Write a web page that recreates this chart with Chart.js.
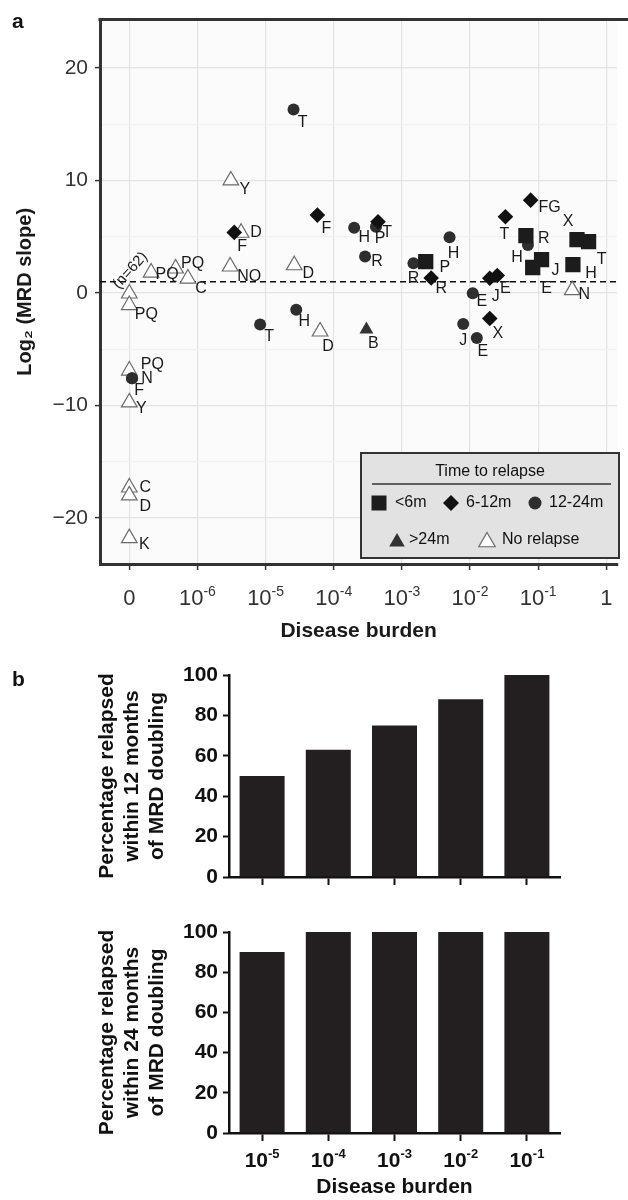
<!DOCTYPE html>
<html>
<head>
<meta charset="utf-8">
<title>MRD slope and disease burden</title>
<script src="https://cdn.jsdelivr.net/npm/chart.js@4.4.1/dist/chart.umd.min.js"></script>
<style>
  html, body { margin: 0; padding: 0; background: #fff; }
  body { position: relative; width: 628px; height: 1200px; overflow: hidden;
         font-family: "Liberation Sans", Arial, Helvetica, sans-serif; color: #111; }
  canvas { position: absolute; left: 0; }
  .panel { position: absolute; left: 12px; font-size: 21px; font-weight: bold; line-height: 1; }
</style>
</head>
<body>
<canvas id="scatter" width="628" height="645" style="top:0"></canvas>
<canvas id="bar12" width="628" height="245" style="top:650px"></canvas>
<canvas id="bar24" width="628" height="305" style="top:895px"></canvas>
<div class="panel" style="top:10px">a</div>
<div class="panel" style="top:668px">b</div>
<script>
(function () {
    "use strict";

    // ---------- data ----------
    // burden = log10(disease burden); -7 is the "0" column at the left
    const xTickValues = [-7, -6, -5, -4, -3, -2, -1, 0];
    const xTickLabels = ['0', '10^-6', '10^-5', '10^-4', '10^-3', '10^-2', '10^-1', '1'];
    const relapseGroups = ['<6m', '6-12m', '12-24m', '>24m', 'No relapse'];
    const doublingLine = 1;

    const lt6mBurden = [-2.65, -1.18, -1.08, -0.95, -0.43, -0.26, -0.49];
    const lt6mSlope = [2.79, 5.09, 2.26, 2.96, 4.73, 4.56, 2.52];
    const lt6mIds = ['P', 'R', 'E', 'J', 'X', 'T', 'H'];

    const m6to12Burden = [-5.46, -4.24, -3.35, -2.57, -1.71, -1.60, -1.71, -1.48, -1.11];
    const m6to12Slope = [5.38, 6.92, 6.33, 1.33, 1.31, 1.55, -2.28, 6.77, 8.25];
    const m6to12Ids = ['F', 'F', 'T', 'R', 'J', 'E', 'X', 'T', 'FG'];

    const m12to24Burden = [-6.96, -6.96, -5.08, -4.59, -4.55, -3.70, -3.38, -3.54, -2.83, -2.30, -1.96, -2.10, -1.90, -1.15];
    const m12to24Slope = [-7.59, -7.59, -2.81, 16.3, -1.49, 5.80, 5.88, 3.23, 2.64, 4.94, -0.02, -2.76, -4.0, 4.27];
    const m12to24Ids = ['N', 'F', 'T', 'T', 'H', 'H', 'P', 'R', 'R', 'H', 'E', 'J', 'E', 'H'];

    const gt24mBurden = [-3.52];
    const gt24mSlope = [-3.26];
    const gt24mIds = ['B'];

    const noRelapseBurden = [-5.51, -5.36, -5.52, -6.32, -6.68, -6.14, -7, -7, -7, -7, -7, -7, -7, -4.58, -4.20, -0.50];
    const noRelapseSlope = [10.0, 5.35, 2.35, 2.17, 1.81, 1.28, -0.05, -1.08, -6.9, -9.73, -17.3, -18.0, -21.8, 2.46, -3.43, 0.25];
    const noRelapseIds = ['Y', 'D', 'NO', 'PQ', 'PQ', 'C', '(n=62)', 'PQ', 'PQ', 'Y', 'C', 'D', 'K', 'D', 'D', 'N'];

    const barCategories = ['10^-5', '10^-4', '10^-3', '10^-2', '10^-1'];
    const relapsedWithin12m = [50, 63, 75, 88, 100];
    const relapsedWithin24m = [90, 100, 100, 100, 100];

    // ---------- styles ----------
    const FONT = '"Liberation Sans", Arial, Helvetica, sans-serif';
    Chart.defaults.font.family = FONT;
    Chart.defaults.color = '#222';

    const groupStyle = [
        { pointStyle: 'rect', radius: 10.8, fill: '#1c1c1c', stroke: '#1c1c1c', borderWidth: 0 },
        { pointStyle: 'rectRot', radius: 7.8, fill: '#111', stroke: '#111', borderWidth: 0 },
        { pointStyle: 'circle', radius: 6, fill: '#2e2e2e', stroke: '#2e2e2e', borderWidth: 0 },
        { pointStyle: 'triangle', radius: 8, fill: '#333', stroke: '#333', borderWidth: 0 },
        { pointStyle: 'triangle', radius: 9, fill: '#fff', stroke: '#6a6a6a', borderWidth: 1.2 }
    ];

    // label offsets in px from each point (ggrepel-like placement)
    const labelNudge = [
        [[19, 6], [18, 3], [14, 21], [14, 11], [-9, -18], [13, 18], [18, 9]],
        [[8, 14], [9, 14], [9, 11], [10, 11], [6, 18], [8, 13], [8, 15], [-1, 18], [19, 7]],
        [[15, 0], [7, 12], [9, 12], [9, 13], [8, 12], [10, 10], [4, 12], [12, 5], [0, 15], [4, 16], [9, 8], [0, 17], [6, 14], [-11, 13]],
        [[7, 14]],
        [[14, 9], [15, 0], [19, 10], [17, -5], [16, 2], [13, 10], [1, -23], [17, 10], [23, -6], [12, 6], [16, 0], [16, 11], [15, 6], [14, 8], [8, 15], [12, 4]]
    ];
    const rotatedLabels = { '(n=62)': -48 };

    const legendBox = { x: 361, y: 453, w: 258, h: 105, titleY: 472, ruleY: 484 };
    const legendSlots = [
        { mx: 379, my: 503, tx: 395, ty: 503, r: 10.6 },
        { mx: 451, my: 503, tx: 466, ty: 503, r: 8 },
        { mx: 535, my: 503, tx: 549, ty: 503, r: 6.5 },
        { mx: 397, my: 542, tx: 409, ty: 540, r: 9 },
        { mx: 487, my: 542, tx: 502, ty: 540, r: 9.5 }
    ];

    const series = [
        { burden: lt6mBurden, slope: lt6mSlope, ids: lt6mIds },
        { burden: m6to12Burden, slope: m6to12Slope, ids: m6to12Ids },
        { burden: m12to24Burden, slope: m12to24Slope, ids: m12to24Ids },
        { burden: gt24mBurden, slope: gt24mSlope, ids: gt24mIds },
        { burden: noRelapseBurden, slope: noRelapseSlope, ids: noRelapseIds }
    ];

    // "10^-6" -> 10 with a raised exponent, centred on cx
    function drawPow(ctx, label, cx, baseline, size, weight, color) {
        const parts = label.split('^');
        const baseFont = weight + ' ' + size + 'px ' + FONT;
        const expFont = weight + ' ' + Math.round(size * 0.62) + 'px ' + FONT;
        ctx.save();
        ctx.fillStyle = color;
        ctx.textBaseline = 'alphabetic';
        ctx.textAlign = 'left';
        ctx.font = baseFont;
        const bw = ctx.measureText(parts[0]).width;
        let ew = 0;
        if (parts[1]) {
            ctx.font = expFont;
            ew = ctx.measureText(parts[1]).width;
        }
        const x0 = cx - (bw + ew) / 2;
        ctx.font = baseFont;
        ctx.fillText(parts[0], x0, baseline);
        if (parts[1]) {
            ctx.font = expFont;
            ctx.fillText(parts[1], x0 + bw, baseline - size * 0.42);
        }
        ctx.restore();
    }

    function drawMarker(ctx, style, x, y, r, fill, stroke, lw) {
        ctx.beginPath();
        if (style === 'rect') {
            const s = r * Math.SQRT1_2;
            ctx.rect(x - s, y - s, 2 * s, 2 * s);
        } else if (style === 'rectRot') {
            ctx.moveTo(x - r, y);
            ctx.lineTo(x, y - r);
            ctx.lineTo(x + r, y);
            ctx.lineTo(x, y + r);
            ctx.closePath();
        } else if (style === 'circle') {
            ctx.arc(x, y, r, 0, Math.PI * 2);
        } else {
            ctx.moveTo(x, y - r);
            ctx.lineTo(x + r * 0.866, y + r * 0.5);
            ctx.lineTo(x - r * 0.866, y + r * 0.5);
            ctx.closePath();
        }
        ctx.fillStyle = fill;
        ctx.fill();
        if (lw) {
            ctx.strokeStyle = stroke;
            ctx.lineWidth = lw;
            ctx.stroke();
        }
    }

    function drawLegend(ctx) {
        const L = legendBox;
        ctx.save();
        ctx.fillStyle = '#e2e2e2';
        ctx.fillRect(L.x, L.y, L.w, L.h);
        ctx.strokeStyle = '#333';
        ctx.lineWidth = 2;
        ctx.strokeRect(L.x, L.y, L.w, L.h);
        ctx.fillStyle = '#111';
        ctx.font = '16px ' + FONT;
        ctx.textAlign = 'center';
        ctx.textBaseline = 'middle';
        ctx.fillText('Time to relapse', L.x + L.w / 2, L.titleY);
        ctx.beginPath();
        ctx.moveTo(L.x + 11, L.ruleY);
        ctx.lineTo(L.x + L.w - 8, L.ruleY);
        ctx.lineWidth = 1.5;
        ctx.stroke();
        relapseGroups.forEach(function (g, i) {
            const s = legendSlots[i];
            const st = groupStyle[i];
            drawMarker(ctx, st.pointStyle, s.mx, s.my, s.r, st.fill, st.stroke, st.borderWidth);
            ctx.fillStyle = '#111';
            ctx.font = '16px ' + FONT;
            ctx.textAlign = 'left';
            ctx.textBaseline = 'middle';
            ctx.fillText(g, s.tx, s.ty);
        });
        ctx.restore();
    }

    // Scatter decorations: panel background, dashed line, point labels, frame, ticks, legend
    const scatterDecor = {
        id: 'scatterDecor',
        beforeDraw(chart) {
            const { ctx, chartArea: a } = chart;
            ctx.save();
            ctx.fillStyle = '#fbfbfb';
            ctx.fillRect(a.left, a.top, a.right - a.left, a.bottom - a.top);
            ctx.restore();
        },
        beforeDatasetsDraw(chart) {
            const { ctx, chartArea: a } = chart;
            const py = chart.scales.y.getPixelForValue(doublingLine);
            ctx.save();
            ctx.strokeStyle = '#111';
            ctx.lineWidth = 1.6;
            ctx.setLineDash([6, 4]);
            ctx.beginPath();
            ctx.moveTo(a.left, py);
            ctx.lineTo(a.right, py);
            ctx.stroke();
            ctx.restore();
        },
        afterDatasetsDraw(chart) {
            const { ctx, chartArea: a } = chart;
            ctx.save();
            ctx.fillStyle = '#1a1a1a';
            ctx.textAlign = 'center';
            ctx.textBaseline = 'middle';
            series.forEach(function (s, si) {
                const meta = chart.getDatasetMeta(si);
                s.ids.forEach(function (id, i) {
                    const el = meta.data[i];
                    const n = labelNudge[si][i];
                    if (rotatedLabels[id] !== undefined) {
                        ctx.save();
                        ctx.font = '15px ' + FONT;
                        ctx.translate(el.x + n[0], el.y + n[1]);
                        ctx.rotate(rotatedLabels[id] * Math.PI / 180);
                        ctx.fillText(id, 0, 0);
                        ctx.restore();
                    } else {
                        ctx.font = '16px ' + FONT;
                        ctx.fillText(id, el.x + n[0], el.y + n[1]);
                    }
                });
            });
            ctx.restore();

            // top edge of the panel frame
            ctx.save();
            ctx.strokeStyle = '#333';
            ctx.lineWidth = 3;
            ctx.beginPath();
            ctx.moveTo(a.left - 1.5, a.top);
            ctx.lineTo(chart.width, a.top);
            ctx.stroke();
            ctx.restore();

            const x = chart.scales.x;
            xTickValues.forEach(function (v, i) {
                drawPow(ctx, xTickLabels[i], x.getPixelForValue(v), a.bottom + 41, 22, 'normal', '#333');
            });

            drawLegend(ctx);
        }
    };

    new Chart(document.getElementById('scatter'), {
        type: 'scatter',
        data: {
            datasets: series.map(function (s, si) {
                const st = groupStyle[si];
                return {
                    label: relapseGroups[si],
                    data: s.burden.map(function (b, i) { return { x: b, y: s.slope[i] }; }),
                    pointStyle: st.pointStyle,
                    pointRadius: st.radius,
                    backgroundColor: st.fill,
                    borderColor: st.stroke,
                    borderWidth: st.borderWidth
                };
            })
        },
        options: {
            responsive: false,
            animation: false,
            events: [],
            layout: { padding: { top: 17, right: 0, bottom: 0, left: 0 } },
            plugins: { legend: { display: false }, tooltip: { enabled: false } },
            scales: {
                x: {
                    type: 'linear',
                    min: -7.43,
                    max: 0.16,
                    afterBuildTicks(scale) {
                        scale.ticks = xTickValues.map(function (v) { return { value: v }; });
                    },
                    afterFit(scale) { scale.height = 81; },
                    ticks: { display: false },
                    grid: { color: '#e3e3e3', lineWidth: 1.2, tickLength: 6, tickColor: '#333', tickWidth: 1.5 },
                    border: { display: true, color: '#333', width: 3 },
                    title: {
                        display: true, text: 'Disease burden', color: '#1a1a1a',
                        font: { size: 21, weight: 'bold' }, padding: { top: 0, bottom: 1 }
                    }
                },
                y: {
                    min: -24.1,
                    max: 24.3,
                    afterBuildTicks(scale) {
                        const t = [];
                        for (let v = -20; v <= 20; v += 5) t.push({ value: v });
                        scale.ticks = t;
                    },
                    afterFit(scale) { scale.width = 100; },
                    ticks: {
                        font: { size: 21 },
                        color: '#333',
                        padding: 7,
                        callback: function (v) {
                            if (v % 10 !== 0) return '';
                            return v < 0 ? '\u2212' + (-v) : String(v);
                        }
                    },
                    grid: {
                        color: function (c) { return c.tick && c.tick.value % 10 !== 0 ? '#f1f1f1' : '#e3e3e3'; },
                        lineWidth: 1.2,
                        tickLength: 5,
                        tickWidth: 1.5,
                        tickColor: function (c) { return c.tick && c.tick.value % 10 !== 0 ? 'rgba(0,0,0,0)' : '#333'; }
                    },
                    border: { display: true, color: '#333', width: 3 },
                    title: {
                        display: true, text: 'Log\u2082 (MRD slope)', color: '#1a1a1a',
                        font: { size: 20, weight: 'bold' }, padding: { top: 13, bottom: 0 }
                    }
                }
            }
        },
        plugins: [scatterDecor]
    });

    function barChart(id, values, o) {
        const powTicks = {
            id: 'powTicks',
            afterDraw(chart) {
                if (!o.tickLabels) return;
                const x = chart.scales.x;
                barCategories.forEach(function (c, i) {
                    drawPow(chart.ctx, c, x.getPixelForValue(i), chart.chartArea.bottom + 34, 21, 'bold', '#111');
                });
            }
        };
        return new Chart(document.getElementById(id), {
            type: 'bar',
            data: {
                labels: barCategories,
                datasets: [{
                    data: values,
                    backgroundColor: '#231f20',
                    borderWidth: 0,
                    barPercentage: 0.68,
                    categoryPercentage: 1
                }]
            },
            options: {
                responsive: false,
                animation: false,
                events: [],
                layout: { padding: { top: o.padTop, right: 68, bottom: 0, left: 0 } },
                plugins: { legend: { display: false }, tooltip: { enabled: false } },
                scales: {
                    x: {
                        afterFit(scale) { scale.height = o.xHeight; },
                        ticks: { display: false },
                        grid: { display: true, drawOnChartArea: false, offset: false, tickLength: 8, tickColor: '#111', tickWidth: 2 },
                        border: { display: true, color: '#111', width: 2.5 },
                        title: {
                            display: !!o.tickLabels, text: 'Disease burden', color: '#111',
                            font: { size: 21, weight: 'bold' }, padding: { top: 0, bottom: 0 }
                        }
                    },
                    y: {
                        min: 0,
                        max: 100,
                        afterFit(scale) { scale.width = 229; },
                        ticks: { stepSize: 20, font: { size: 21, weight: 'bold' }, color: '#111', padding: 5 },
                        grid: { display: true, drawOnChartArea: false, tickLength: 6, tickColor: '#111', tickWidth: 2 },
                        border: { display: true, color: '#111', width: 2.5 },
                        title: {
                            display: true, text: o.yTitle, color: '#111',
                            font: { size: 21, weight: 'bold', lineHeight: 1.21 }, padding: { top: 94, bottom: 0 }
                        }
                    }
                }
            },
            plugins: [powTicks]
        });
    }

    barChart('bar12', relapsedWithin12m, {
        padTop: 25, xHeight: 18, tickLabels: false,
        yTitle: ['Percentage relapsed', 'within 12 months', 'of MRD doubling']
    });
    barChart('bar24', relapsedWithin24m, {
        padTop: 37, xHeight: 67, tickLabels: true,
        yTitle: ['Percentage relapsed', 'within 24 months', 'of MRD doubling']
    });
})();
</script>
</body>
</html>
